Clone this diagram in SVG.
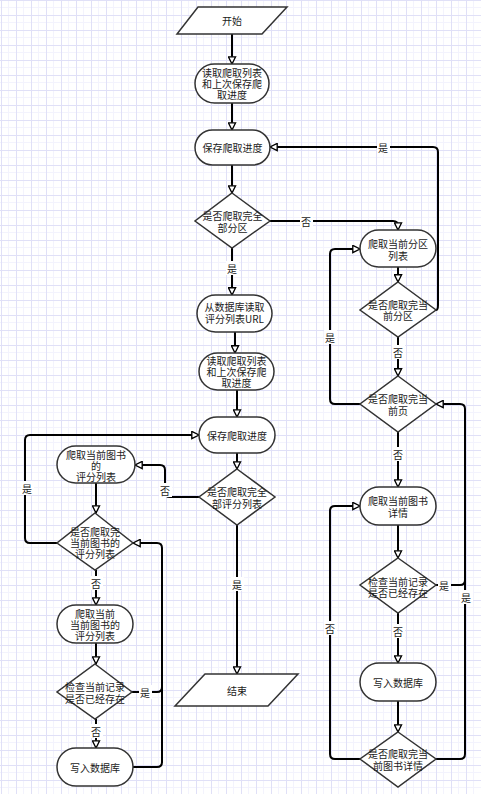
<svg xmlns="http://www.w3.org/2000/svg" width="481" height="794" viewBox="0 0 481 794">
<defs>
<pattern id="grid" width="15" height="15" patternUnits="userSpaceOnUse">
<rect x="0" y="0" width="15" height="15" fill="#ffffff"/>
<rect x="8" y="0" width="1" height="15" fill="#f3f3fd"/>
<rect x="0" y="7" width="15" height="1" fill="#f3f3fd"/>
<rect x="1" y="0" width="1" height="15" fill="#e0e0f7"/>
<rect x="0" y="0" width="15" height="1" fill="#e0e0f7"/>
</pattern>
<marker id="arr" viewBox="0 0 10 10" refX="9" refY="5" markerWidth="9" markerHeight="9" markerUnits="userSpaceOnUse" orient="auto">
<path d="M1,1 L9,5 L1,9 z" fill="#ffffff" stroke="#000" stroke-width="1.5"/>
</marker>
</defs>
<style>
.n{fill:#fff;stroke:#333;stroke-width:1.5}
.t{font-family:"Noto Sans CJK SC","Noto Sans",sans-serif;font-size:10px;fill:#1a1a1a;text-anchor:middle;dominant-baseline:central}
.c{fill:none;stroke:#000;stroke-width:2}
.a{marker-end:url(#arr)}
.lb{fill:#fff}
</style>
<rect width="481" height="794" fill="url(#grid)"/>

<g id="connectors">
<path class="c a" d="M232,34 V64"/>
<path class="c a" d="M232,103 V130"/>
<path class="c a" d="M232,165 V193"/>
<path class="c a" d="M270,221 H393 Q398,221 398,226 V230"/>
<path class="c a" d="M232,248 V295"/>
<path class="c a" d="M235,332 V353"/>
<path class="c a" d="M237,390 V417"/>
<path class="c a" d="M237,453 V469"/>
<path class="c a" d="M237,525 V674"/>
<path class="c a" d="M199,497 H170 Q165,497 165,492 V470 Q165,465 160,465 H135"/>
<path class="c a" d="M96,483 V513"/>
<path class="c a" d="M57,543 H30 Q25,543 25,538 V440 Q25,435 30,435 H199"/>
<path class="c a" d="M96,570 V605"/>
<path class="c a" d="M96,643 V664"/>
<path class="c a" d="M96,719 V748"/>
<path class="c a" d="M133,767 H157 Q162,767 162,762 V548 Q162,543 157,543 H133"/>
<path class="c" d="M132,692 H157 Q162,692 162,687"/>
<path class="c a" d="M398,267 V282"/>
<path class="c a" d="M436,310 Q438,310 438,305 V152 Q438,147 433,147 H270"/>
<path class="c a" d="M398,337 V376"/>
<path class="c a" d="M360,404 H335 Q330,404 330,399 V254 Q330,249 335,249 H360"/>
<path class="c a" d="M398,432 V487"/>
<path class="c a" d="M398,525 V558"/>
<path class="c a" d="M398,613 V663"/>
<path class="c" d="M436,585 H460 Q465,585 465,580"/>
<path class="c a" d="M398,701 V732"/>
<path class="c a" d="M360,759 H335 Q330,759 330,754 V511 Q330,506 335,506 H360"/>
<path class="c a" d="M436,759 H460 Q465,759 465,754 V409 Q465,404 460,404 H436"/>
<g id="labels">
<rect class="lb" x="300" y="214" width="13" height="14"/><text class="t" x="306" y="221">否</text>
<rect class="lb" x="226" y="261" width="13" height="14"/><text class="t" x="232" y="268">是</text>
<rect class="lb" x="231" y="577" width="13" height="14"/><text class="t" x="237" y="584">是</text>
<rect class="lb" x="159" y="483" width="13" height="14"/><text class="t" x="165" y="490">否</text>
<rect class="lb" x="21" y="481" width="13" height="14"/><text class="t" x="27" y="488">是</text>
<rect class="lb" x="90" y="576" width="13" height="14"/><text class="t" x="96" y="583">否</text>
<rect class="lb" x="90" y="724" width="13" height="14"/><text class="t" x="96" y="731">否</text>
<rect class="lb" x="139" y="685" width="13" height="14"/><text class="t" x="145" y="692">是</text>
<rect class="lb" x="377" y="140" width="13" height="14"/><text class="t" x="383" y="147">是</text>
<rect class="lb" x="392" y="345" width="13" height="14"/><text class="t" x="398" y="352">否</text>
<rect class="lb" x="324" y="330" width="13" height="14"/><text class="t" x="330" y="337">是</text>
<rect class="lb" x="392" y="447" width="13" height="14"/><text class="t" x="398" y="454">否</text>
<rect class="lb" x="392" y="624" width="13" height="14"/><text class="t" x="398" y="631">否</text>
<rect class="lb" x="438" y="578" width="13" height="14"/><text class="t" x="444" y="585">是</text>
<rect class="lb" x="324" y="621" width="13" height="14"/><text class="t" x="330" y="628">否</text>
<rect class="lb" x="460" y="590" width="13" height="14"/><text class="t" x="466" y="597">是</text>
</g>
</g>

<g id="start"><polygon class="n" points="198,7 287,7 262,34 177,34"/><text class="t" x="232" y="20.5">开始</text></g>
<g id="read1"><rect class="n" x="195" y="64" width="74" height="39" rx="19.5"/><text class="t" x="232" y="72.5">读取爬取列表</text><text class="t" x="232" y="83.5">和上次保存爬</text><text class="t" x="232" y="94.5">取进度</text></g>
<g id="save1"><rect class="n" x="195" y="130" width="75" height="35" rx="17.5"/><text class="t" x="232.5" y="147.5">保存爬取进度</text></g>
<g id="d1"><polygon class="n" points="232,193 270,221 232,248 195,221"/><text class="t" x="232.5" y="215">是否爬取完全</text><text class="t" x="232.5" y="227">部分区</text></g>
<g id="url"><rect class="n" x="197" y="295" width="75" height="37" rx="18.5"/><text class="t" x="234.5" y="306.5">从数据库读取</text><text class="t" x="234.5" y="318.5">评分列表URL</text></g>
<g id="read2"><rect class="n" x="199" y="353" width="75" height="37" rx="18.5"/><text class="t" x="236.5" y="360.5">读取爬取列表</text><text class="t" x="236.5" y="371.5">和上次保存爬</text><text class="t" x="236.5" y="382.5">取进度</text></g>
<g id="save2"><rect class="n" x="199" y="417" width="76" height="36" rx="18"/><text class="t" x="237" y="435">保存爬取进度</text></g>
<g id="d2"><polygon class="n" points="237,469 275,497 237,525 199,497"/><text class="t" x="237" y="491">是否爬取完全</text><text class="t" x="237" y="503">部评分列表</text></g>
<g id="end"><polygon class="n" points="205,674 298,674 268,706 175,706"/><text class="t" x="237" y="690">结束</text></g>

<g id="bookscore"><rect class="n" x="57" y="446" width="78" height="37" rx="18.5"/><text class="t" x="96" y="454">爬取当前图书</text><text class="t" x="96" y="465">的</text><text class="t" x="96" y="476">评分列表</text></g>
<g id="d3"><polygon class="n" points="95,513 133,543 95,570 57,543"/><text class="t" x="95" y="531.5">是否爬取完</text><text class="t" x="95" y="542.5">当前图书的</text><text class="t" x="95" y="553.5">评分列表</text></g>
<g id="bookscore2"><rect class="n" x="57" y="605" width="76" height="38" rx="19"/><text class="t" x="95" y="613">爬取当前</text><text class="t" x="95" y="624">当前图书的</text><text class="t" x="95" y="635">评分列表</text></g>
<g id="d4"><polygon class="n" points="95,664 132,692 95,719 57,692"/><text class="t" x="95" y="686.5">检查当前记录</text><text class="t" x="95" y="698">是否已经存在</text></g>
<g id="write1"><rect class="n" x="57" y="748" width="76" height="38" rx="19"/><text class="t" x="95" y="767">写入数据库</text></g>

<g id="partlist"><rect class="n" x="360" y="230" width="76" height="37" rx="18.5"/><text class="t" x="398" y="243.5">爬取当前分区</text><text class="t" x="398" y="255.5">列表</text></g>
<g id="dr1"><polygon class="n" points="398,282 436,310 398,337 360,310"/><text class="t" x="398" y="304">是否爬取完当</text><text class="t" x="398" y="315.5">前分区</text></g>
<g id="dr2"><polygon class="n" points="398,376 436,404 398,432 360,404"/><text class="t" x="398" y="398.5">是否爬取完当</text><text class="t" x="398" y="410">前页</text></g>
<g id="detail"><rect class="n" x="360" y="487" width="76" height="38" rx="19"/><text class="t" x="398" y="500.5">爬取当前图书</text><text class="t" x="398" y="512">详情</text></g>
<g id="dr3"><polygon class="n" points="398,558 436,585 398,613 360,585"/><text class="t" x="398" y="581">检查当前记录</text><text class="t" x="398" y="592.5">是否已经存在</text></g>
<g id="write2"><rect class="n" x="360" y="663" width="76" height="38" rx="19"/><text class="t" x="398" y="682">写入数据库</text></g>
<g id="dr4"><polygon class="n" points="398,732 436,759 398,787 360,759"/><text class="t" x="398" y="753.5">是否爬取完当</text><text class="t" x="398" y="765">前图书详情</text></g>
</svg>
